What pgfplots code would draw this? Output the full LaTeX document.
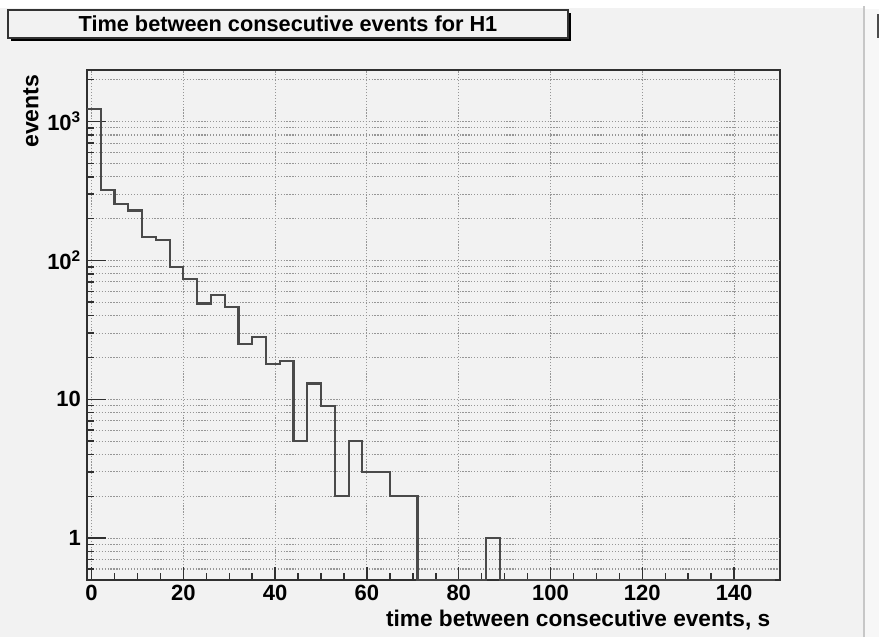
\documentclass[border=0pt]{standalone}
\usepackage{fontspec}
\setmainfont{Liberation Sans}
\usepackage{pgfplots}
\pgfplotsset{compat=1.18}
\definecolor{bg}{HTML}{F2F2F2}
\definecolor{bgr}{HTML}{F7F7F7}
\definecolor{histc}{HTML}{4A4A4A}
\definecolor{gridc}{HTML}{969696}
\definecolor{framec}{HTML}{303030}
\begin{document}
\begin{tikzpicture}[font=\fontsize{16}{19}\selectfont\bfseries]
\path[use as bounding box] (0,0) rectangle (659.25pt,477.75pt);
\fill[white] (0,0) rectangle (659.25pt,477.75pt);
\fill[bg] (0,0) rectangle (647.25pt,471.75pt);
\fill[bgr] (648.75pt,0) rectangle (659.25pt,471pt);
\draw[line width=1.2pt, color=black!22] (648pt,0) -- (648pt,473pt);
\fill[black!70] (657.75pt,449pt) rectangle (659.25pt,467pt);
% title box
\fill[black] (8.25pt,447pt) rectangle (428.25pt,468pt);
\draw[line width=0.9pt, draw=black!80, fill=bg] (6pt,449.25pt) rectangle (426pt,470.25pt);
\node at (216pt,459.75pt) {\fontsize{16.3}{19}\selectfont Time between consecutive events for H1};
\begin{axis}[
  at={(65.25pt,42.75pt)}, anchor=south west,
  scale only axis, width=519.75pt, height=382.5pt,
  ymode=log, xmin=-1, xmax=150, ymin=0.5, ymax=2350,
  xtick={0,20,40,60,80,100,120,140},
  xticklabels={0,20,40,60,80,100,120,140},
  minor x tick num=3,
  ytick={1,10,100,1000},
  yticklabels={1,10,10\textsuperscript{2},10\textsuperscript{3}},
  minor ytick={0.6,0.7,0.8,0.9,2,3,4,5,6,7,8,9,20,30,40,50,60,70,80,90,200,300,400,500,600,700,800,900,2000},
  extra y ticks={1,10,100,1000},
  extra y tick labels={},
  extra y tick style={major tick length=14.25pt},
  xmajorgrids=true, ymajorgrids=true, yminorgrids=true,
  major grid style={gridc, line width=0.8pt, dash pattern=on 0.9pt off 1.3pt},
  minor grid style={gridc, line width=0.8pt, dash pattern=on 0.9pt off 1.3pt},
  tick align=inside, xtick pos=left, ytick pos=left,
  major tick length=9.75pt, minor tick length=5.5pt,
  tick style={framec, line width=1.1pt},
  axis line style={framec, line width=1.4pt},
  tick label style={font=\fontsize{16.5}{19}\selectfont\bfseries},
  xticklabel style={yshift=0pt},
  yticklabel style={xshift=-1pt},
]
% empty bins are drawn at the axis floor (0.5)
\addplot[const plot mark left, histc, line width=1.6pt, mark=none] coordinates {
(-1,1234) (2,323) (5,256) (8,229) (11,148) (14,140) (17,90) (20,74)
(23,49) (26,56) (29,46) (32,25) (35,28) (38,18) (41,19) (44,5)
(47,13) (50,9) (53,2) (56,5) (59,3) (62,3) (65,2) (68,2)
(71,0.5) (86,1) (89,0.5) (149,0.5)
};
\end{axis}
\node[rotate=90, anchor=east] at (23.25pt,425.25pt) {\fontsize{17.3}{20}\selectfont events};
\node[anchor=base east] at (581.25pt,8.25pt) {\fontsize{17}{20}\selectfont time between consecutive events, s};
\end{tikzpicture}
\end{document}
